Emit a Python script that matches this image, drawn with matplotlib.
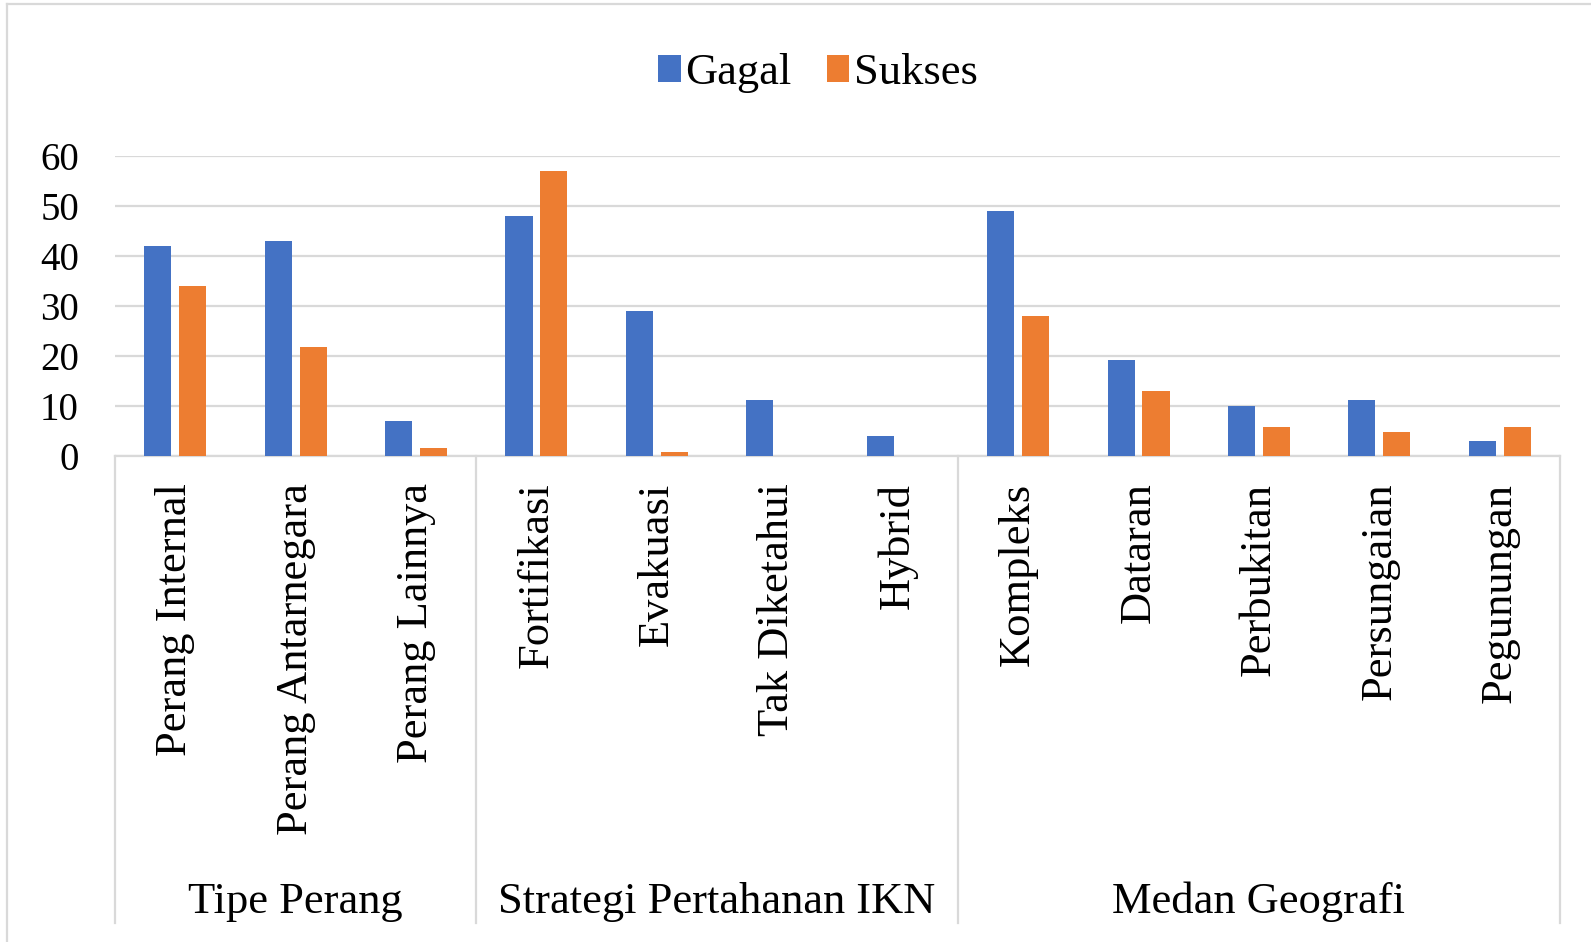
import matplotlib
matplotlib.use("Agg")
import matplotlib.pyplot as plt
import numpy as np
from matplotlib.lines import Line2D
from matplotlib.patches import Patch

plt.rcParams['font.family'] = ['Liberation Serif', 'DejaVu Serif']

categories = ["Perang Internal", "Perang Antarnegara", "Perang Lainnya",
              "Fortifikasi", "Evakuasi", "Tak Diketahui", "Hybrid",
              "Kompleks", "Dataran", "Perbukitan", "Persungaian", "Pegunungan"]
groups = ["Tipe Perang", "Strategi Pertahanan IKN", "Medan Geografi"]
group_sizes = [3, 4, 5]
gagal = [42, 43, 7, 48, 29, 11.2, 3.9, 49, 19.1, 9.9, 11.2, 3.0]
sukses = [34, 21.7, 1.6, 57, 0.7, 0, 0, 28, 12.9, 5.7, 4.8, 5.7]
series_names = ["Gagal", "Sukses"]
yticks = [0, 10, 20, 30, 40, 50, 60]

BLUE = "#4472C4"
ORANGE = "#ED7D31"
GRID = "#D9D9D9"

W, H = 1591, 942
fig = plt.figure(figsize=(W / 100, H / 100), dpi=100)
left, right = 115 / W, 1560 / W
top, bottom = 1 - 155.7 / H, 1 - 455.7 / H
ax = fig.add_axes([left, bottom, right - left, top - bottom])

x = np.arange(len(categories))
bw = 0.225
off = 0.145
ax.bar(x - off, gagal, width=bw, color=BLUE, zorder=3, label=series_names[0])
ax.bar(x + off, sukses, width=bw, color=ORANGE, zorder=3, label=series_names[1])

ax.set_xlim(-0.5, len(categories) - 0.5)
ax.set_ylim(0, 60)
ax.set_yticks(yticks)
ax.set_yticklabels([str(v) for v in yticks], fontsize=28)
ax.tick_params(axis='y', length=0, pad=26)
ax.set_xticks([])
for s in ax.spines.values():
    s.set_visible(False)
ax.yaxis.grid(True, color=GRID, linewidth=1.6, zorder=0)
ax.set_axisbelow(True)

# bottom axis line
ax.axhline(0, color=GRID, linewidth=1.6, zorder=2, clip_on=False)

# category labels
trans = ax.get_xaxis_transform()
axes_px = 300.0
for i, c in enumerate(categories):
    ax.text(i, -27 / axes_px, c, transform=trans, rotation=90, ha='center',
            va='top', fontsize=32)

# group separators and labels
bottom_y = -(923 - 455.7) / axes_px
bounds = np.concatenate([[0], np.cumsum(group_sizes)]) - 0.5
for b in bounds:
    ax.add_line(Line2D([b, b], [0, bottom_y], transform=trans, color=GRID,
                       linewidth=1.6, clip_on=False))
for g, a, b in zip(groups, bounds[:-1], bounds[1:]):
    ax.text((a + b) / 2, -(913 - 455.7) / axes_px, g, transform=trans,
            ha='center', va='baseline', fontsize=32)

# legend
handles = [Patch(facecolor=BLUE), Patch(facecolor=ORANGE)]
fig.legend(handles, series_names, loc='center', bbox_to_anchor=(818 / W, 1 - 73 / H),
           ncol=2, frameon=False, fontsize=32, handlelength=0.5, handleheight=0.55,
           handletextpad=0.1, columnspacing=0.8, borderpad=0)

# chart outer border (left and top)
fig.add_artist(Line2D([7 / W, 7 / W], [0, 1 - 4 / H], transform=fig.transFigure,
                      color=GRID, linewidth=1.6))
fig.add_artist(Line2D([7 / W, 1], [1 - 4 / H, 1 - 4 / H], transform=fig.transFigure,
                      color=GRID, linewidth=1.6))

fig.savefig("out.png", dpi=100, facecolor='white')
